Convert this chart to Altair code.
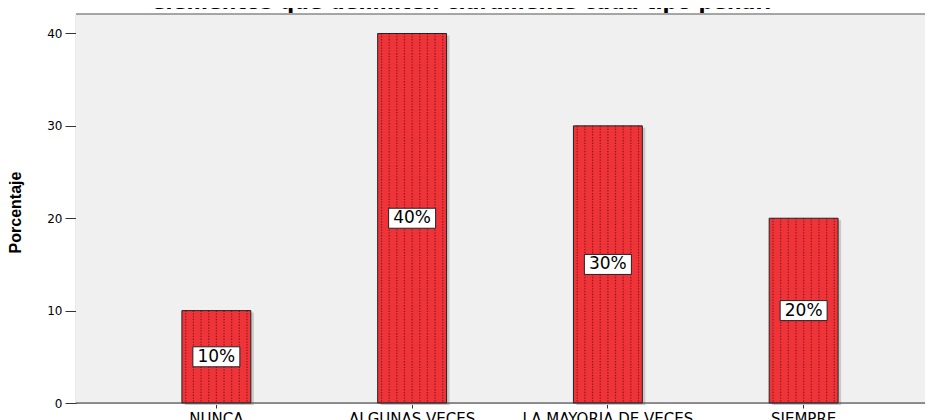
import altair as alt
import pandas as pd

categories = ["NUNCA", "ALGUNAS VECES", "LA MAYORIA DE VECES", "SIEMPRE"]
values = [10, 40, 30, 20]
labels = ["10%", "40%", "30%", "20%"]
title_text = "elementos que delimiten claramente cada tipo penal?"
y_ticks = [0, 10, 20, 30, 40]
pattern_cols = list(range(9))

df = pd.DataFrame({"cat": categories, "val": values, "lab": labels})
df["mid"] = df["val"] / 2
pat = pd.DataFrame([{"cat": c, "val": v, "k": k} for c, v in zip(categories, values) for k in pattern_cols])
one = pd.DataFrame({"t": [title_text]})

PW, PH = 849, 389      # drawn plot area (svg must fit the page width)
FULL_W = 868           # the frame continues past the window's right edge

xscale = alt.Scale(domain=categories, range=[0, FULL_W], paddingInner=0.648, paddingOuter=0.541)
yscale = alt.Scale(domain=[0, 42.11], nice=False, zero=True)

xenc = alt.X("cat:N", scale=xscale, sort=categories, axis=alt.Axis(
    title=None, labelAngle=0, labelAlign="center", labelFont="DejaVu Sans", labelFontSize=15,
    labelColor="#000", tickSize=5, tickColor="#333", domain=False, labelPadding=3, labelLimit=400))
yenc = alt.Y("val:Q", scale=yscale, axis=alt.Axis(
    values=y_ticks, grid=False, title="Porcentaje", titleFont="Liberation Sans", titleFontSize=16,
    titleFontWeight="bold", titleColor="#000", titleAngle=-90, titleX=-61, titleY=198,
    titleAlign="center", titleBaseline="middle",
    labelFont="DejaVu Sans", labelFontSize=12, labelColor="#000", tickSize=11,
    tickColor="#333", domainColor="#333", domainWidth=1.2, labelPadding=3))
ymid = alt.Y("mid:Q", scale=yscale)

# plot frame background and borders
bg = alt.Chart(one).mark_rect(fill="#f0f0f0").encode(
    x=alt.value(0), x2=alt.value(FULL_W), y=alt.value(0), y2=alt.value(PH))
top_border = alt.Chart(one).mark_rule(color="#8a8a8a", strokeWidth=1.6).encode(
    x=alt.value(0), x2=alt.value(FULL_W), y=alt.value(0))
bottom_axis = alt.Chart(one).mark_rule(color="#333", strokeWidth=1.2).encode(
    x=alt.value(0), x2=alt.value(FULL_W), y=alt.value(PH))

base = alt.Chart(df)
shadow = base.mark_bar(color="#c9c9c9", xOffset=3, yOffset=2).encode(x=xenc, y=yenc)
bars = base.mark_bar(color="#ef3439").encode(x=xenc, y=yenc)
dots = alt.Chart(pat).mark_rule(color="#7a1216", strokeDash=[1.3, 1.5], strokeWidth=1.2, opacity=0.85).encode(
    x=xenc,
    xOffset=alt.XOffset("k:O", scale=alt.Scale(paddingInner=0, paddingOuter=0)),
    y=yenc,
    y2=alt.datum(0),
)
outline = base.mark_bar(fill=None, stroke="#222", strokeWidth=1).encode(x=xenc, y=yenc)
box_path = "M-1,-0.4255L1,-0.4255L1,0.4255L-1,0.4255Z"
boxes = base.mark_point(shape=box_path, size=47 * 47, filled=True, fill="white", stroke="#222",
                        strokeWidth=1, opacity=1).encode(x=xenc, y=ymid)
texts = base.mark_text(font="DejaVu Sans", fontSize=17, color="#000", baseline="middle").encode(
    x=xenc, y=ymid, text="lab:N")
title = alt.Chart(one).mark_text(
    font="DejaVu Sans", fontSize=20.5, fontWeight="bold", color="#000", baseline="alphabetic",
    align="center").encode(x=alt.value(387), y=alt.value(-5), text="t:N")

chart = alt.layer(bg, top_border, shadow, bars, dots, outline, boxes, texts, bottom_axis, title).properties(
    width=PW, height=PH,
    autosize=alt.AutoSizeParams(type="none"),
    padding={"left": 68, "top": 6, "right": 0, "bottom": 17},
).configure_view(stroke=None).configure(background="white")

chart.save("out.html", embed_options={"renderer": "svg", "actions": False})
